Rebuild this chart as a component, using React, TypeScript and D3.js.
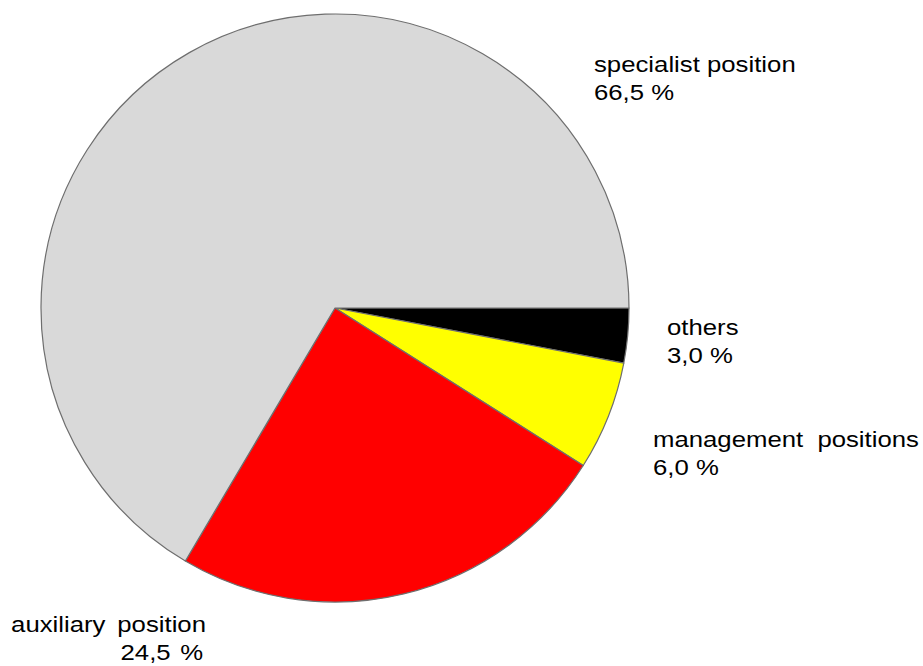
import React, { useEffect, useRef } from "react";
import * as d3 from "d3";

// Share of positions, pie starts at 3 o'clock and runs clockwise
const categories = ["others", "management positions", "auxiliary position", "specialist position"];
const shares = [3.0, 6.0, 24.5, 66.5];
const shareLabels = ["3,0 %", "6,0 %", "24,5 %", "66,5 %"];
const colors = ["#000000", "#ffff00", "#ff0000", "#d9d9d9"];

const App = () => {
    const svgRef = useRef<SVGSVGElement>(null);

    useEffect(() => {
        const width = 923;
        const height = 666;
        const cx = 335;
        const cy = 308;
        const radius = 294;
        const sx = 1.17;

        const svg = d3.select(svgRef.current);
        svg.selectAll("*").remove();

        const data = categories.map((c, i) => ({ name: c, value: shares[i], label: shareLabels[i], color: colors[i] }));

        const pie = d3.pie<any>()
            .value(d => d.value)
            .sort(null)
            .startAngle(Math.PI / 2)
            .endAngle(Math.PI / 2 + 2 * Math.PI);

        const arc = d3.arc<any>().innerRadius(0).outerRadius(radius);

        svg.append("g")
            .attr("transform", `translate(${cx},${cy})`)
            .selectAll("path")
            .data(pie(data))
            .join("path")
            .attr("d", arc)
            .attr("fill", d => d.data.color)
            .attr("stroke", "#6e6e6e")
            .attr("stroke-width", 1.2)
            .attr("stroke-linejoin", "round");

        // label positions (picked to match the original layout)
        const labelPos: { [k: string]: { x: number; y: number; anchor: string; spacing?: number; dx2?: number } } = {
            "others": { x: 667, y: 335, anchor: "start" },
            "management positions": { x: 653, y: 447, anchor: "start", spacing: 6 },
            "auxiliary position": { x: 206, y: 632, anchor: "end", spacing: 4, dx2: -3 },
            "specialist position": { x: 594, y: 72, anchor: "start" },
        };

        const labels = svg.append("g")
            .attr("font-family", "Arial, 'Liberation Sans', sans-serif")
            .attr("font-size", 22)
            .attr("fill", "#000");

        data.forEach(d => {
            const p = labelPos[d.name];
            const g = labels.append("g")
                .attr("transform", `translate(${p.x},${p.y}) scale(${sx},1)`);
            g.append("text")
                .attr("x", 0)
                .attr("y", 0)
                .attr("text-anchor", p.anchor)
                .attr("word-spacing", p.spacing || 0)
                .text(d.name);
            g.append("text")
                .attr("x", (p.dx2 || 0) / sx)
                .attr("y", 28)
                .attr("text-anchor", p.anchor)
                .attr("word-spacing", p.anchor === "end" ? 2 : 0)
                .text(d.label);
        });

        svg.attr("width", width).attr("height", height);
    }, []);

    return (
        <svg
            ref={svgRef}
            width={923}
            height={666}
            style={{ position: "absolute", left: 0, top: 0, background: "#fff" }}
        ></svg>
    );
};

export default App;
